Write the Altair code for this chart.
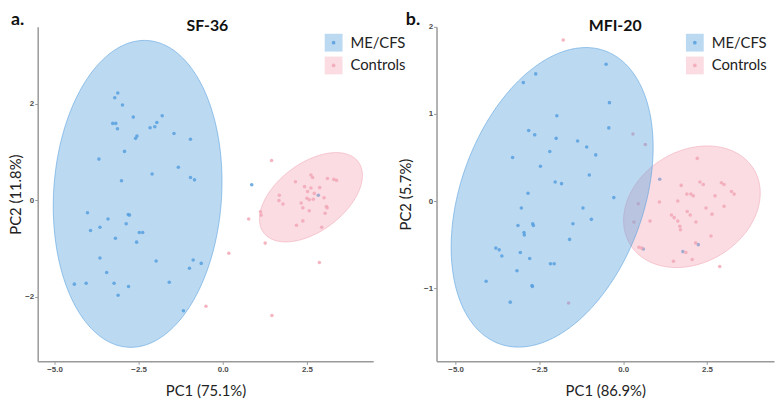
import altair as alt
import numpy as np
import pandas as pd

GROUPS = ["ME/CFS", "Controls"]
COLORS = ["#58a0de", "#f2a8b6"]
X_TICKS = [-5.0, -2.5, 0.0, 2.5]

# ---------------- panel a : SF-36 ----------------
sf_me_x = [-3.12, -3.21, -2.98, -2.66, -3.27, -3.18, -3.13, -2.16, -2.02, -1.96, -1.80, -1.45,
           -0.96, -2.55, -2.59, -2.92, -3.68, -2.10, -1.32, -3.01, -0.96, -0.84, 0.86, 2.84,
           -4.02, -3.93, -3.65, -3.41, -3.19, -2.87, -2.81, -2.77, -2.48, -2.38, -2.56, -3.65,
           -3.45, -3.23, -2.80, -3.11, -4.41, -4.06, -1.98, -1.59, -0.88, -0.99, -0.64, -1.17]
sf_me_y = [2.22, 2.12, 1.97, 1.72, 1.59, 1.59, 1.48, 1.50, 1.52, 1.61, 1.75, 1.38,
           1.26, 1.33, 1.28, 1.01, 0.85, 0.54, 0.68, 0.40, 0.47, 0.42, 0.32, 0.10,
           -0.26, -0.63, -0.56, -0.39, -0.79, -0.49, -0.30, -0.31, -0.67, -0.67, -0.87, -1.20,
           -1.50, -1.72, -1.79, -1.97, -1.74, -1.72, -1.26, -1.70, -1.24, -1.41, -1.31, -2.29]
sf_ct_x = [1.45, -0.50, 0.18, 0.77, 1.26, 2.87, 1.46, 1.12, 1.14, 2.62, 2.67, 2.16,
           3.11, 3.30, 3.38, 2.43, 2.62, 2.88, 2.52, 2.72, 2.50, 2.57, 2.69, 1.68,
           1.79, 1.67, 2.33, 2.38, 3.01, 3.08, 3.10, 3.04, 2.57, 2.38, 2.19, 2.94]
sf_ct_y = [0.82, -2.20, -1.10, -0.39, -0.89, -1.29, -2.39, -0.24, -0.31, 0.52, 0.47, 0.38,
           0.45, 0.43, 0.41, 0.28, 0.25, 0.26, 0.18, 0.14, 0.04, 0.01, 0.02, 0.10,
           -0.08, -0.01, -0.06, -0.16, 0.05, -0.13, -0.16, -0.27, -0.22, -0.43, -0.52, -0.56]
# ellipse per group: centre and shape matrix (sxx, sxy, syy), order = GROUPS
sf_ell_cx = [-2.53, 2.62]
sf_ell_cy = [0.13, 0.06]
sf_ell_sxx = [6.285, 2.341]
sf_ell_sxy = [0.641, 0.694]
sf_ell_syy = [10.106, 0.856]

# ---------------- panel b : MFI-20 ----------------
mf_me_x = [-0.51, -2.61, -2.98, -0.41, -1.98, -0.43, -2.82, -2.64, -2.00, -1.36,
           -1.09, -0.82, -2.19, -3.30, -2.47, -1.01, -2.03, -1.84, -2.84, -0.28,
           1.09, -3.04, -3.14, -2.70, -2.68, -2.96, -2.95, -3.80, -3.70, -3.62,
           -3.07, -2.79, -3.17, -2.17, -2.06, -2.72, -2.71, -4.09, -3.37, -1.20,
           -1.50, -0.95, -1.60, 0.60, 1.78, 2.24]
mf_me_y = [1.57, 1.46, 1.36, 1.13, 0.98, 0.84, 0.81, 0.76, 0.72, 0.69,
           0.62, 0.53, 0.57, 0.50, 0.40, 0.30, 0.22, 0.20, 0.09, 0.04,
           0.25, -0.08, -0.28, -0.26, -0.28, -0.36, -0.39, -0.54, -0.56, -0.63,
           -0.59, -0.66, -0.80, -0.72, -0.72, -0.97, -0.98, -0.92, -1.16, -0.08,
           -0.26, -0.21, -0.44, -0.55, -0.58, -0.50]
mf_ct_x = [-1.79, 0.29, 0.66, 2.21, 1.73, 2.29, 2.39, 2.93, 3.01, 3.23,
           3.31, 2.02, 2.74, -1.63, 0.32, 0.80, 0.47, 0.55, 1.08, 1.63,
           1.44, 1.52, 1.63, 1.69, 1.71, 1.91, 2.00, 2.17, 2.47, 2.65,
           3.01, 2.62, 2.16, 1.87, 2.06, 1.50, 2.88, 0.45, 1.90, 2.09]
mf_ct_y = [1.85, 0.77, 0.65, 0.49, 0.18, 0.22, 0.19, 0.21, 0.19, 0.11,
           0.08, 0.08, 0.06, -1.17, -0.24, -0.23, -0.53, -0.54, -0.01, 0.00,
           -0.16, -0.19, -0.23, -0.29, -0.33, -0.12, -0.16, -0.24, -0.08, -0.15,
           -0.06, -0.40, -0.48, -0.59, -0.67, -0.69, -0.75, -0.03, 0.08, 0.06]
mf_ell_cx = [-2.12, 2.05]
mf_ell_cy = [0.043, -0.065]
mf_ell_sxx = [9.080, 4.155]
mf_ell_sxy = [1.730, 0.321]
mf_ell_syy = [2.956, 0.487]


def ellipse_band(group, cx, cy, sxx, sxy, syy, n=241):
    s = np.linspace(0.0, np.pi, n)
    rx = np.sqrt(sxx)
    dx = rx * np.cos(s)
    mid = cy + (sxy / sxx) * dx
    half = np.sqrt(max(syy - sxy ** 2 / sxx, 0.0)) * np.sqrt(np.clip(1.0 - (dx / rx) ** 2, 0.0, None))
    return pd.DataFrame({"group": group, "x": cx + dx, "ylo": mid - half, "yhi": mid + half})


def panel(me_x, me_y, ct_x, ct_y, ecx, ecy, esxx, esxy, esyy, x_dom, y_dom, y_ticks,
          title, title_dx, letter, letter_x, xtitle, ytitle, ytitle_pad, leg_x, leg_y, width, height):
    pts = pd.DataFrame({
        "x": me_x + ct_x,
        "y": me_y + ct_y,
        "group": [GROUPS[0]] * len(me_x) + [GROUPS[1]] * len(ct_x),
    })
    xs = alt.Scale(domain=x_dom, nice=False, zero=False)
    ys = alt.Scale(domain=y_dom, nice=False, zero=False)
    xax = alt.Axis(values=X_TICKS, format=".1f", title=xtitle, titlePadding=10)
    yax = alt.Axis(values=y_ticks, format="d", title=ytitle, titlePadding=ytitle_pad)

    dot_legend = alt.Legend(title=None, orient="none", legendX=leg_x, legendY=leg_y,
                            symbolType="circle", symbolSize=14, symbolStrokeWidth=0,
                            labelFontSize=18, labelExpr="''", rowPadding=5, padding=0)
    sq_legend = alt.Legend(title=None, orient="none", legendX=leg_x, legendY=leg_y,
                           symbolType="square", symbolSize=324, symbolOpacity=0.4,
                           symbolStrokeWidth=0, labelFont="Lato", labelFontSize=15,
                           labelColor="#222222", labelOffset=8, rowPadding=5, padding=0)

    points = alt.Chart(pts).mark_circle(size=13, opacity=0.85).encode(
        x=alt.X("x:Q", scale=xs, axis=xax),
        y=alt.Y("y:Q", scale=ys, axis=yax),
        color=alt.Color("group:N", sort=GROUPS, scale=alt.Scale(range=COLORS), legend=dot_legend),
    )

    layers = [points]
    for i in [1, 0]:  # Controls ellipse first, ME/CFS on top
        band = ellipse_band(GROUPS[i], ecx[i], ecy[i], esxx[i], esxy[i], esyy[i])
        layers.append(
            alt.Chart(band).mark_area(fillOpacity=0.4, stroke=COLORS[i], strokeWidth=1,
                                      strokeOpacity=0.6).encode(
                x=alt.X("x:Q", scale=xs, axis=xax),
                y=alt.Y("ylo:Q", scale=ys, axis=yax),
                y2="yhi:Q",
                fill=alt.Fill("group:N", scale=alt.Scale(domain=GROUPS, range=COLORS),
                              legend=sq_legend),
            )
        )

    lab = alt.Chart(pd.DataFrame({"t": [letter]})).mark_text(
        align="left", baseline="alphabetic", fontSize=18, fontWeight="bold",
        font="Lato", color="#111111").encode(
        text="t:N", x=alt.value(letter_x), y=alt.value(-2))
    ttl = alt.Chart(pd.DataFrame({"t": [title]})).mark_text(
        align="center", baseline="alphabetic", fontSize=16, fontWeight="bold",
        font="Lato", color="#111111").encode(
        text="t:N", x=alt.value(width / 2 + title_dx), y=alt.value(4))
    layers += [lab, ttl]

    return alt.layer(*layers).properties(width=width, height=height)


pa = panel(sf_me_x, sf_me_y, sf_ct_x, sf_ct_y, sf_ell_cx, sf_ell_cy, sf_ell_sxx, sf_ell_sxy, sf_ell_syy,
           [-5.50, 4.47], [-3.34, 3.59], [-2, 0, 2], "SF-36", 2, "a.", -27,
           "PC1 (75.1%)", "PC2 (11.8%)", 1, 290, 7, 339, 338)
pb = panel(mf_me_x, mf_me_y, mf_ct_x, mf_ct_y, mf_ell_cx, mf_ell_cy, mf_ell_sxx, mf_ell_sxy, mf_ell_syy,
           [-5.57, 4.50], [-1.84, 2.0], [-1, 0, 1, 2], "MFI-20", 10, "b.", -31,
           "PC1 (86.9%)", "PC2 (5.7%)", 10, 252, 7, 341, 338)

chart = alt.hconcat(pa, pb, spacing=64, bounds="flush").resolve_scale(
    color="independent", fill="independent"
).resolve_legend(
    color="independent", fill="independent"
).properties(padding=0).configure_view(stroke="transparent").configure_axis(
    grid=False,
    domainColor="#999999", domainWidth=1.5,
    tickColor="#999999", tickSize=3, tickWidth=1,
    labelFont="Liberation Sans", labelFontSize=8, labelFontWeight="bold", labelColor="#4d4d4d",
    labelPadding=1,
    titleFont="Lato", titleFontSize=15, titleFontWeight="normal", titleColor="#222222",
)

chart.save("out.html", embed_options={"renderer": "svg", "actions": False})
